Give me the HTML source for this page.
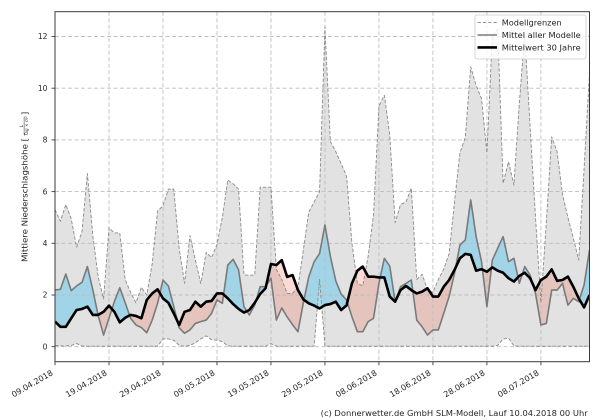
<!DOCTYPE html>
<html>
<head>
<meta charset="utf-8">
<style>
html,body{margin:0;padding:0;background:#fff;width:600px;height:420px;overflow:hidden}
svg{display:block;overflow:hidden}
text{font-family:"DejaVu Sans","Liberation Sans",sans-serif;fill:#262626}
</style>
</head>
<body>
<svg width="600" height="420" viewBox="0 0 600 420" xmlns="http://www.w3.org/2000/svg">
<defs>
<clipPath id="ax"><rect x="55" y="11.7" width="534.5" height="350"/></clipPath>
<clipPath id="aboveB"><polygon points="0,0.97 1,0.77 2,0.77 3,1.1 4,1.42 5,1.46 6,1.55 7,1.23 8,1.23 9,1.35 10,1.59 11,1.35 12,0.94 13,1.12 14,1.23 15,1.19 16,1.1 17,1.81 18,2.06 19,2.22 20,1.87 21,1.7 22,1.29 23,0.84 24,1.35 25,1.42 26,1.74 27,1.55 28,1.74 29,1.77 30,2.06 31,2.06 32,1.87 33,1.65 34,1.46 35,1.32 36,1.42 37,1.7 38,2.04 39,2.26 40,3.2 41,3.16 42,3.35 43,2.7 44,2.77 45,2.19 46,1.83 47,1.68 48,1.59 49,1.48 50,1.61 51,1.65 52,1.74 53,1.42 54,1.6 55,2.45 56,2.94 57,3.1 58,2.71 59,2.71 60,2.68 61,2.68 62,1.94 63,1.74 64,2.19 65,2.35 66,2.19 67,2.06 68,2.13 69,2.26 70,1.94 71,1.94 72,2.32 73,2.58 74,2.97 75,3.42 76,3.59 77,3.55 78,2.94 79,3.0 80,2.9 81,3.07 82,2.94 83,2.86 84,2.65 85,2.52 86,2.74 87,2.86 88,2.65 89,2.19 90,2.58 91,2.71 92,2.99 93,2.55 94,2.58 95,2.71 96,2.32 97,1.87 98,1.52 99,2.0 99,13 0,13"/></clipPath>
<clipPath id="aboveM"><polygon points="0,2.19 1,2.22 2,2.81 3,2.17 4,2.35 5,2.49 6,3.1 7,2.2 8,1.2 9,0.45 10,1.1 11,1.75 12,2.28 13,1.7 14,1.1 15,0.84 16,0.74 17,0.54 18,1.03 19,1.68 20,2.58 21,2.35 22,1.55 23,0.73 24,0.52 25,0.65 26,0.9 27,0.97 28,1.03 29,1.29 30,1.81 31,1.68 32,3.16 33,3.38 34,2.97 35,1.55 36,1.23 37,1.61 38,2.32 39,2.32 40,2.65 41,1.03 42,1.5 43,1.15 44,0.85 45,0.58 46,1.7 47,2.7 48,3.29 49,3.6 50,4.71 51,3.5 52,2.55 53,2.03 54,1.81 55,1.16 56,0.58 57,0.58 58,0.97 59,1.1 60,2.45 61,3.42 62,3.12 63,1.74 64,2.32 65,2.45 66,2.58 67,1.03 68,0.77 69,0.45 70,0.65 71,0.65 72,1.29 73,1.94 74,2.84 75,3.94 76,4.13 77,5.68 78,4.26 79,3.29 80,1.55 81,3.35 82,3.81 83,4.26 84,3.29 85,3.42 86,2.45 87,3.1 88,2.77 89,2.06 90,0.84 91,0.9 92,2.19 93,2.19 94,2.45 95,1.61 96,1.87 97,1.74 98,2.39 99,3.74 99,13 0,13"/></clipPath>
</defs>

<g clip-path="url(#ax)">
<g transform="translate(55,346.7) scale(5.399,-25.85)">
<polygon fill="#e2e2e2" points="0,5.3 1,4.85 2,5.5 3,4.95 4,3.85 5,4.45 6,6.7 7,4.3 8,2.7 9,1.85 10,4.6 11,4.4 12,4.4 13,2.6 14,2.1 15,1.7 16,2.3 17,2.0 18,3.2 19,5.25 20,5.45 21,6.1 22,6.1 23,3.8 24,2.45 25,4.3 26,3.35 27,2.45 28,3.65 29,3.45 30,3.95 31,5.0 32,6.45 33,6.3 34,6.1 35,2.77 36,2.77 37,2.77 38,6.17 39,6.17 40,6.17 41,3.0 42,2.6 43,2.06 44,2.06 45,2.3 46,3.74 47,5.2 48,5.6 49,6.0 50,12.37 51,7.94 52,7.55 53,7.08 54,6.6 55,4.0 56,2.45 57,2.35 58,3.5 59,5.1 60,9.3 61,9.73 62,8.2 63,4.8 64,5.5 65,5.6 66,6.13 67,2.6 68,2.8 69,2.2 70,2.1 71,2.6 72,3.0 73,3.6 74,5.6 75,7.5 76,8.1 77,10.83 78,10.1 79,9.6 80,7.5 81,12.0 82,12.3 83,6.32 84,7.16 85,6.25 86,9.4 87,12.1 88,8.5 89,5.0 90,1.7 91,4.8 92,8.12 93,7.54 94,5.9 95,5.0 96,4.2 97,3.35 98,6.9 99,10.57 99,0.02 86,0.02 85,0.03 84,0.33 83,0.3 82,0.05 81,0.02 50,0.02 49,2.6 48,0.02 41,0.02 40,0.12 39,0.02 33,0.02 32,0.03 31,0.2 30,0.25 29,0.27 28,0.42 27,0.3 26,0.15 25,0.05 24,0.02 23,0.05 22,0.25 21,0.3 20,0.3 19,0.02 6,0.02 5,0.03 4,0.12 3,0.05 2,0.03 1,0.03 0,0.05"/>
<polygon clip-path="url(#aboveB)" fill="rgb(135,206,235)" fill-opacity="0.7" points="0,2.19 1,2.22 2,2.81 3,2.17 4,2.35 5,2.49 6,3.1 7,2.2 8,1.2 9,0.45 10,1.1 11,1.75 12,2.28 13,1.7 14,1.1 15,0.84 16,0.74 17,0.54 18,1.03 19,1.68 20,2.58 21,2.35 22,1.55 23,0.73 24,0.52 25,0.65 26,0.9 27,0.97 28,1.03 29,1.29 30,1.81 31,1.68 32,3.16 33,3.38 34,2.97 35,1.55 36,1.23 37,1.61 38,2.32 39,2.32 40,2.65 41,1.03 42,1.5 43,1.15 44,0.85 45,0.58 46,1.7 47,2.7 48,3.29 49,3.6 50,4.71 51,3.5 52,2.55 53,2.03 54,1.81 55,1.16 56,0.58 57,0.58 58,0.97 59,1.1 60,2.45 61,3.42 62,3.12 63,1.74 64,2.32 65,2.45 66,2.58 67,1.03 68,0.77 69,0.45 70,0.65 71,0.65 72,1.29 73,1.94 74,2.84 75,3.94 76,4.13 77,5.68 78,4.26 79,3.29 80,1.55 81,3.35 82,3.81 83,4.26 84,3.29 85,3.42 86,2.45 87,3.1 88,2.77 89,2.06 90,0.84 91,0.9 92,2.19 93,2.19 94,2.45 95,1.61 96,1.87 97,1.74 98,2.39 99,3.74 99,-0.59 0,-0.59"/>
<polygon clip-path="url(#aboveM)" fill="rgb(235,90,60)" fill-opacity="0.22" points="0,0.97 1,0.77 2,0.77 3,1.1 4,1.42 5,1.46 6,1.55 7,1.23 8,1.23 9,1.35 10,1.59 11,1.35 12,0.94 13,1.12 14,1.23 15,1.19 16,1.1 17,1.81 18,2.06 19,2.22 20,1.87 21,1.7 22,1.29 23,0.84 24,1.35 25,1.42 26,1.74 27,1.55 28,1.74 29,1.77 30,2.06 31,2.06 32,1.87 33,1.65 34,1.46 35,1.32 36,1.42 37,1.7 38,2.04 39,2.26 40,3.2 41,3.16 42,3.35 43,2.7 44,2.77 45,2.19 46,1.83 47,1.68 48,1.59 49,1.48 50,1.61 51,1.65 52,1.74 53,1.42 54,1.6 55,2.45 56,2.94 57,3.1 58,2.71 59,2.71 60,2.68 61,2.68 62,1.94 63,1.74 64,2.19 65,2.35 66,2.19 67,2.06 68,2.13 69,2.26 70,1.94 71,1.94 72,2.32 73,2.58 74,2.97 75,3.42 76,3.59 77,3.55 78,2.94 79,3.0 80,2.9 81,3.07 82,2.94 83,2.86 84,2.65 85,2.52 86,2.74 87,2.86 88,2.65 89,2.19 90,2.58 91,2.71 92,2.99 93,2.55 94,2.58 95,2.71 96,2.32 97,1.87 98,1.52 99,2.0 99,-0.59 0,-0.59"/>
</g>

<g stroke="#bdbdbd" stroke-width="0.9" stroke-dasharray="4,2.5" fill="none">
<line x1="55" y1="346.7" x2="589.5" y2="346.7"/>
<line x1="55" y1="295" x2="589.5" y2="295"/>
<line x1="55" y1="243.3" x2="589.5" y2="243.3"/>
<line x1="55" y1="191.6" x2="589.5" y2="191.6"/>
<line x1="55" y1="139.9" x2="589.5" y2="139.9"/>
<line x1="55" y1="88.2" x2="589.5" y2="88.2"/>
<line x1="55" y1="36.5" x2="589.5" y2="36.5"/>
<line x1="108.99" y1="11.7" x2="108.99" y2="361.7"/>
<line x1="162.98" y1="11.7" x2="162.98" y2="361.7"/>
<line x1="216.97" y1="11.7" x2="216.97" y2="361.7"/>
<line x1="270.96" y1="11.7" x2="270.96" y2="361.7"/>
<line x1="324.95" y1="11.7" x2="324.95" y2="361.7"/>
<line x1="378.94" y1="11.7" x2="378.94" y2="361.7"/>
<line x1="432.93" y1="11.7" x2="432.93" y2="361.7"/>
<line x1="486.92" y1="11.7" x2="486.92" y2="361.7"/>
<line x1="540.91" y1="11.7" x2="540.91" y2="361.7"/>
</g>

<g transform="translate(55,346.7) scale(5.399,-25.85)" fill="none" stroke-linejoin="round" stroke-linecap="butt">
<polyline vector-effect="non-scaling-stroke" stroke="#8a8a8a" stroke-width="0.9" stroke-dasharray="3.5,1.8" points="0,5.3 1,4.85 2,5.5 3,4.95 4,3.85 5,4.45 6,6.7 7,4.3 8,2.7 9,1.85 10,4.6 11,4.4 12,4.4 13,2.6 14,2.1 15,1.7 16,2.3 17,2.0 18,3.2 19,5.25 20,5.45 21,6.1 22,6.1 23,3.8 24,2.45 25,4.3 26,3.35 27,2.45 28,3.65 29,3.45 30,3.95 31,5.0 32,6.45 33,6.3 34,6.1 35,2.77 36,2.77 37,2.77 38,6.17 39,6.17 40,6.17 41,3.0 42,2.6 43,2.06 44,2.06 45,2.3 46,3.74 47,5.2 48,5.6 49,6.0 50,12.37 51,7.94 52,7.55 53,7.08 54,6.6 55,4.0 56,2.45 57,2.35 58,3.5 59,5.1 60,9.3 61,9.73 62,8.2 63,4.8 64,5.5 65,5.6 66,6.13 67,2.6 68,2.8 69,2.2 70,2.1 71,2.6 72,3.0 73,3.6 74,5.6 75,7.5 76,8.1 77,10.83 78,10.1 79,9.6 80,7.5 81,12.0 82,12.3 83,6.32 84,7.16 85,6.25 86,9.4 87,12.1 88,8.5 89,5.0 90,1.7 91,4.8 92,8.12 93,7.54 94,5.9 95,5.0 96,4.2 97,3.35 98,6.9 99,10.57"/>
<polyline vector-effect="non-scaling-stroke" stroke="#8a8a8a" stroke-width="0.9" stroke-dasharray="3.5,1.8" points="0,0.05 1,0.03 2,0.03 3,0.05 4,0.12 5,0.03 6,0.02 19,0.02 20,0.3 21,0.3 22,0.25 23,0.05 24,0.02 25,0.05 26,0.15 27,0.3 28,0.42 29,0.27 30,0.25 31,0.2 32,0.03 33,0.02 39,0.02 40,0.12 41,0.02 48,0.02 49,2.6 50,0.02 81,0.02 82,0.05 83,0.3 84,0.33 85,0.03 86,0.02 99,0.02"/>
<polyline vector-effect="non-scaling-stroke" stroke="#7a7a7a" stroke-width="1.6" points="0,2.19 1,2.22 2,2.81 3,2.17 4,2.35 5,2.49 6,3.1 7,2.2 8,1.2 9,0.45 10,1.1 11,1.75 12,2.28 13,1.7 14,1.1 15,0.84 16,0.74 17,0.54 18,1.03 19,1.68 20,2.58 21,2.35 22,1.55 23,0.73 24,0.52 25,0.65 26,0.9 27,0.97 28,1.03 29,1.29 30,1.81 31,1.68 32,3.16 33,3.38 34,2.97 35,1.55 36,1.23 37,1.61 38,2.32 39,2.32 40,2.65 41,1.03 42,1.5 43,1.15 44,0.85 45,0.58 46,1.7 47,2.7 48,3.29 49,3.6 50,4.71 51,3.5 52,2.55 53,2.03 54,1.81 55,1.16 56,0.58 57,0.58 58,0.97 59,1.1 60,2.45 61,3.42 62,3.12 63,1.74 64,2.32 65,2.45 66,2.58 67,1.03 68,0.77 69,0.45 70,0.65 71,0.65 72,1.29 73,1.94 74,2.84 75,3.94 76,4.13 77,5.68 78,4.26 79,3.29 80,1.55 81,3.35 82,3.81 83,4.26 84,3.29 85,3.42 86,2.45 87,3.1 88,2.77 89,2.06 90,0.84 91,0.9 92,2.19 93,2.19 94,2.45 95,1.61 96,1.87 97,1.74 98,2.39 99,3.74"/>
<polyline vector-effect="non-scaling-stroke" stroke="#000" stroke-width="2.6" points="0,0.97 1,0.77 2,0.77 3,1.1 4,1.42 5,1.46 6,1.55 7,1.23 8,1.23 9,1.35 10,1.59 11,1.35 12,0.94 13,1.12 14,1.23 15,1.19 16,1.1 17,1.81 18,2.06 19,2.22 20,1.87 21,1.7 22,1.29 23,0.84 24,1.35 25,1.42 26,1.74 27,1.55 28,1.74 29,1.77 30,2.06 31,2.06 32,1.87 33,1.65 34,1.46 35,1.32 36,1.42 37,1.7 38,2.04 39,2.26 40,3.2 41,3.16 42,3.35 43,2.7 44,2.77 45,2.19 46,1.83 47,1.68 48,1.59 49,1.48 50,1.61 51,1.65 52,1.74 53,1.42 54,1.6 55,2.45 56,2.94 57,3.1 58,2.71 59,2.71 60,2.68 61,2.68 62,1.94 63,1.74 64,2.19 65,2.35 66,2.19 67,2.06 68,2.13 69,2.26 70,1.94 71,1.94 72,2.32 73,2.58 74,2.97 75,3.42 76,3.59 77,3.55 78,2.94 79,3.0 80,2.9 81,3.07 82,2.94 83,2.86 84,2.65 85,2.52 86,2.74 87,2.86 88,2.65 89,2.19 90,2.58 91,2.71 92,2.99 93,2.55 94,2.58 95,2.71 96,2.32 97,1.87 98,1.52 99,2.0"/>
</g>
</g>

<rect x="55" y="11.7" width="534.5" height="350" fill="none" stroke="#3a3a3a" stroke-width="1"/>

<g stroke="#3a3a3a" stroke-width="0.9">
<line x1="51.5" y1="346.7" x2="55" y2="346.7"/>
<line x1="51.5" y1="295" x2="55" y2="295"/>
<line x1="51.5" y1="243.3" x2="55" y2="243.3"/>
<line x1="51.5" y1="191.6" x2="55" y2="191.6"/>
<line x1="51.5" y1="139.9" x2="55" y2="139.9"/>
<line x1="51.5" y1="88.2" x2="55" y2="88.2"/>
<line x1="51.5" y1="36.5" x2="55" y2="36.5"/>
<line x1="55" y1="361.7" x2="55" y2="365.2"/>
<line x1="108.99" y1="361.7" x2="108.99" y2="365.2"/>
<line x1="162.98" y1="361.7" x2="162.98" y2="365.2"/>
<line x1="216.97" y1="361.7" x2="216.97" y2="365.2"/>
<line x1="270.96" y1="361.7" x2="270.96" y2="365.2"/>
<line x1="324.95" y1="361.7" x2="324.95" y2="365.2"/>
<line x1="378.94" y1="361.7" x2="378.94" y2="365.2"/>
<line x1="432.93" y1="361.7" x2="432.93" y2="365.2"/>
<line x1="486.92" y1="361.7" x2="486.92" y2="365.2"/>
<line x1="540.91" y1="361.7" x2="540.91" y2="365.2"/>
</g>

<g font-size="7.6" text-anchor="end">
<text x="47.5" y="349.4">0</text>
<text x="47.5" y="297.7">2</text>
<text x="47.5" y="246">4</text>
<text x="47.5" y="194.3">6</text>
<text x="47.5" y="142.6">8</text>
<text x="47.5" y="90.9">10</text>
<text x="47.5" y="39.2">12</text>
</g>

<g font-size="8" text-anchor="end">
<text x="53.5" y="374.5" transform="rotate(-30 53.5 374.5)" textLength="46" lengthAdjust="spacingAndGlyphs">09.04.2018</text>
<text x="107.5" y="374.5" transform="rotate(-30 107.5 374.5)" textLength="46" lengthAdjust="spacingAndGlyphs">19.04.2018</text>
<text x="161.5" y="374.5" transform="rotate(-30 161.5 374.5)" textLength="46" lengthAdjust="spacingAndGlyphs">29.04.2018</text>
<text x="215.5" y="374.5" transform="rotate(-30 215.5 374.5)" textLength="46" lengthAdjust="spacingAndGlyphs">09.05.2018</text>
<text x="269.5" y="374.5" transform="rotate(-30 269.5 374.5)" textLength="46" lengthAdjust="spacingAndGlyphs">19.05.2018</text>
<text x="323.5" y="374.5" transform="rotate(-30 323.5 374.5)" textLength="46" lengthAdjust="spacingAndGlyphs">29.05.2018</text>
<text x="377.5" y="374.5" transform="rotate(-30 377.5 374.5)" textLength="46" lengthAdjust="spacingAndGlyphs">08.06.2018</text>
<text x="431.5" y="374.5" transform="rotate(-30 431.5 374.5)" textLength="46" lengthAdjust="spacingAndGlyphs">18.06.2018</text>
<text x="485.5" y="374.5" transform="rotate(-30 485.5 374.5)" textLength="46" lengthAdjust="spacingAndGlyphs">28.06.2018</text>
<text x="539.5" y="374.5" transform="rotate(-30 539.5 374.5)" textLength="46" lengthAdjust="spacingAndGlyphs">08.07.2018</text>
</g>

<g transform="translate(27.5,262) rotate(-90)">
<text x="0" y="0" font-size="8.3" textLength="124" lengthAdjust="spacingAndGlyphs">Mittlere Niederschlagshöhe [</text>
<text x="136" y="-4.6" font-size="4.6" text-anchor="middle" font-style="italic">L</text>
<line x1="127" y1="-3.4" x2="145" y2="-3.4" stroke="#262626" stroke-width="0.5"/>
<text x="136" y="0.3" font-size="4.3" text-anchor="middle" font-style="italic">Tag × m²</text>
<text x="147" y="0" font-size="8.3">]</text>
</g>

<rect x="475" y="15" width="111" height="44" rx="2" ry="2" fill="#fff" fill-opacity="0.82" stroke="#cccccc" stroke-width="0.8"/>
<line x1="477.5" y1="22.6" x2="497" y2="22.6" stroke="#8a8a8a" stroke-width="0.9" stroke-dasharray="3.5,1.8"/>
<line x1="477.5" y1="35" x2="497" y2="35" stroke="#7a7a7a" stroke-width="1.6"/>
<line x1="477.5" y1="47.4" x2="497" y2="47.4" stroke="#000" stroke-width="2.6"/>
<g font-size="8.3">
<text x="501.7" y="25.6" textLength="60" lengthAdjust="spacingAndGlyphs">Modellgrenzen</text>
<text x="501.7" y="38" textLength="79" lengthAdjust="spacingAndGlyphs">Mittel aller Modelle</text>
<text x="501.7" y="50.4" textLength="79" lengthAdjust="spacingAndGlyphs">Mittelwert 30 Jahre</text>
</g>

<text x="320.7" y="416" font-size="8.3" textLength="267" lengthAdjust="spacingAndGlyphs">(c) Donnerwetter.de GmbH SLM-Modell, Lauf 10.04.2018 00 Uhr</text>
</svg>
</body>
</html>
